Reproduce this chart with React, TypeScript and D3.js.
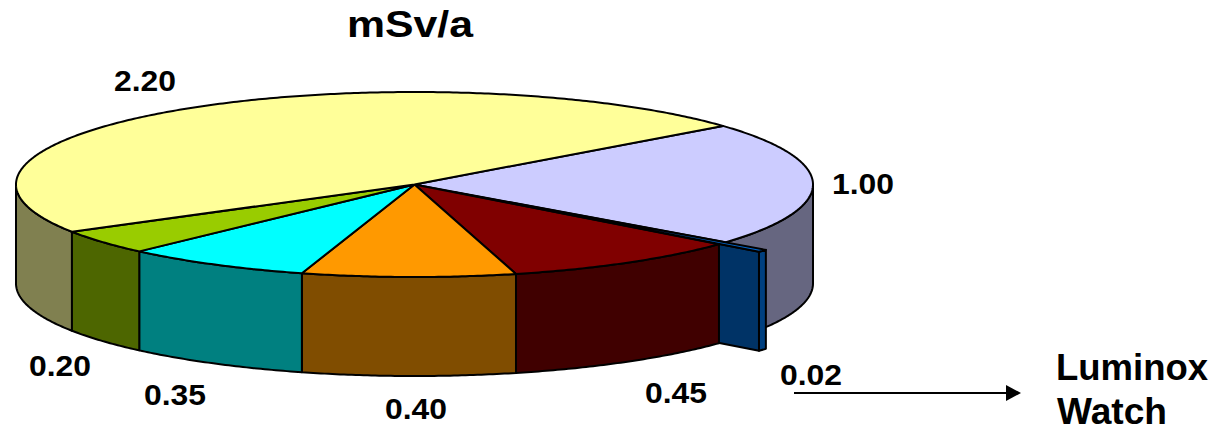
import React from "react";
import * as d3 from "d3";

const title = "mSv/a";
const sliceValues = [1.0, 0.02, 0.45, 0.4, 0.35, 0.2, 2.2];
const topColors = ["#ccccff", "#0066cc", "#800000", "#ff9900", "#00ffff", "#99cc00", "#ffff99"];
const sideColors = ["#666680", "#004080", "#400000", "#804d00", "#008080", "#4d6600", "#808050"];
const annotation = ["Luminox", "Watch"];

const W = 1225, H = 428;
const DEPTH = 99;
const START = (50.7 * Math.PI) / 180;
const EXPLODE = 0.13;
const X = d3.scaleLinear().domain([-1, 1]).range([16, 813]);
const Y = d3.scaleLinear().domain([-1, 1]).range([277, 92]);

const pie = d3.pie<number>().sort(null).startAngle(START).endAngle(START + 2 * Math.PI);
const arcs = pie(sliceValues);
const line = d3.line<[number, number]>();

type P = [number, number];
const pt = (a: number, r = 1, dy = 0): P => [X(r * Math.sin(a)), Y(r * Math.cos(a)) + dy];
const samples = (a0: number, a1: number, r = 1, dy = 0): P[] => {
  const n = Math.max(2, Math.ceil(Math.abs(a1 - a0) / 0.01));
  return d3.range(n + 1).map((i) => pt(a0 + ((a1 - a0) * i) / n, r, dy));
};
const TAU = 2 * Math.PI;
const topPath = (a0: number, a1: number) => line([pt(0, 0), ...samples(a0, a1)])! + "Z";
// rim only for the front half of the ellipse (90deg..270deg)
const rimPath = (a0: number, a1: number) => {
  const s = a0 % TAU, e = s + (a1 - a0);
  const candidates: [number, number][] = [[s, e], [s - TAU, e - TAU], [s + TAU, e + TAU]];
  for (const [p, q] of candidates) {
    const lo = Math.max(p, Math.PI / 2), hi = Math.min(q, (3 * Math.PI) / 2);
    if (hi > lo) return line([...samples(lo, hi), ...samples(hi, lo, 1, DEPTH)])! + "Z";
  }
  return null;
};

const stroke = { stroke: "#000", strokeWidth: 2, strokeLinejoin: "round" as const };

// exploded slice
const blue = arcs[1];
const mid = (blue.startAngle + blue.endAngle) / 2;
const blueCenter = pt(mid, EXPLODE);
const off = (a: number, dy = 0): P => {
  const [x1, y1] = pt(a);
  return [x1 + blueCenter[0] - X(0), y1 + blueCenter[1] - Y(0) + dy];
};
const blueA = off(blue.startAngle), blueB = off(blue.endAngle);
const blueA2 = off(blue.startAngle, DEPTH), blueB2 = off(blue.endAngle, DEPTH);

const labelSpec = [
  { i: 0, x: 832, y: 194, w: 62 },
  { i: 1, x: 780, y: 385, w: 62 },
  { i: 2, x: 645, y: 403, w: 62 },
  { i: 3, x: 385, y: 419, w: 62 },
  { i: 4, x: 144, y: 405, w: 62 },
  { i: 5, x: 29, y: 376, w: 62 },
  { i: 6, x: 114, y: 91, w: 62 },
];
const FONT = "'Liberation Sans', Arial, sans-serif";

export default function App() {
  return (
    <svg width={W} height={H} style={{ position: "absolute", left: 0, top: 0, background: "#fff" }} fontFamily={FONT} fontWeight="bold">
      {arcs.map((a, i) => {
        if (i !== 0 && i !== 6) return null;
        const d = rimPath(a.startAngle, a.endAngle);
        return d && <path key={i} d={d} fill={sideColors[i]} {...stroke} />;
      })}
      <path d={line([blueCenter, blueB, blueB2, [blueCenter[0], blueCenter[1] + DEPTH]])! + "Z"} fill="#003366" {...stroke} />
      <path d={line([blueA, blueB, blueB2, blueA2])! + "Z"} fill={sideColors[1]} {...stroke} />
      {arcs.map((a, i) => {
        if (i === 0 || i === 1 || i === 6) return null;
        const d = rimPath(a.startAngle, a.endAngle);
        return d && <path key={i} d={d} fill={sideColors[i]} {...stroke} />;
      })}
      {arcs.map((a, i) =>
        i === 1 ? null : <path key={i} d={topPath(a.startAngle, a.endAngle)} fill={topColors[i]} {...stroke} />
      )}
      <path d={line([blueCenter, blueA, blueB])! + "Z"} fill={topColors[1]} {...stroke} />
      <text x={347} y={37} fontSize={37} textLength={126} lengthAdjust="spacingAndGlyphs">{title}</text>
      {labelSpec.map((l) => (
        <text key={l.i} x={l.x} y={l.y} fontSize={29} textLength={l.w} lengthAdjust="spacingAndGlyphs">
          {sliceValues[l.i].toFixed(2)}
        </text>
      ))}
      <line x1={794} y1={393} x2={1006} y2={393} stroke="#000" strokeWidth={2} />
      <path d="M1006,385 L1021,393 L1006,401 Z" fill="#000" />
      <text x={1056} y={380} fontSize={36} textLength={152} lengthAdjust="spacingAndGlyphs">{annotation[0]}</text>
      <text x={1057} y={424} fontSize={36} textLength={110} lengthAdjust="spacingAndGlyphs">{annotation[1]}</text>
    </svg>
  );
}
